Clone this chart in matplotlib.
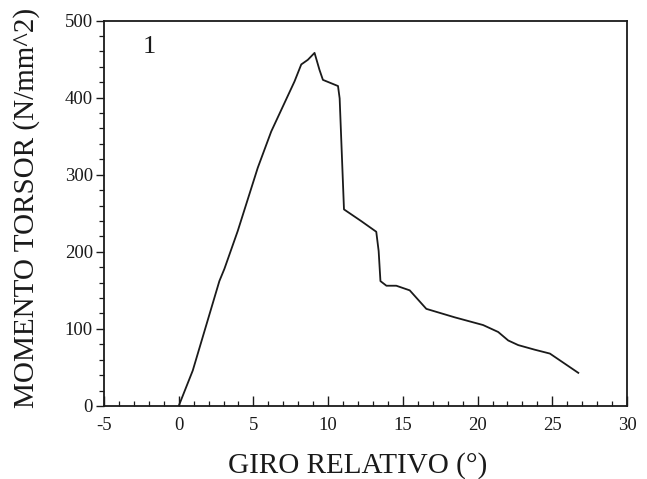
import matplotlib
matplotlib.use("Agg")
import matplotlib.pyplot as plt
from matplotlib.ticker import MultipleLocator

# Torque vs. relative rotation curve
giro = [0.0, 0.94, 2.72, 3.06, 3.95, 5.29, 6.19, 7.75, 8.2, 8.64, 9.09, 9.42,
        9.65, 10.66, 10.77, 11.06, 12.2, 13.22, 13.38, 13.5, 13.9, 14.56,
        15.46, 16.57, 18.47, 20.37, 21.38, 22.05, 22.72, 23.83, 24.84, 26.74]
momento = [0, 46, 162, 178, 227, 309, 356, 421, 443, 449, 458, 436,
           423, 415, 399, 255, 240, 226, 201, 162, 156, 156,
           150, 126, 115, 105, 96, 85, 79, 73, 68, 43]

x_ticks = [-5, 0, 5, 10, 15, 20, 25, 30]
y_ticks = [0, 100, 200, 300, 400, 500]

plt.rcParams['font.family'] = ['Liberation Serif', 'DejaVu Serif']
plt.rcParams['axes.unicode_minus'] = False

fig = plt.figure(figsize=(6.47, 4.79), dpi=100)
ax = fig.add_axes([104 / 647, 1 - 406 / 479, (627 - 104) / 647, (406 - 20.5) / 479])

ax.plot(giro, momento, color='#1a1a1a', lw=1.3)

ax.set_xlim(-5, 30)
ax.set_ylim(0, 500)
ax.set_xticks(x_ticks)
ax.set_yticks(y_ticks)
ax.xaxis.set_minor_locator(MultipleLocator(1))
ax.yaxis.set_minor_locator(MultipleLocator(20))

ax.tick_params(axis='x', which='major', direction='in', length=7, width=1.0,
               labelsize=13.5, pad=8, colors='#1a1a1a')
ax.tick_params(axis='x', which='minor', direction='in', length=3.5, width=0.9,
               colors='#1a1a1a')
ax.tick_params(axis='y', which='major', direction='out', length=6, width=1.0,
               labelsize=13.5, pad=2, colors='#1a1a1a')
ax.tick_params(axis='y', which='minor', direction='out', length=3.5, width=0.9,
               colors='#1a1a1a')

for side in ax.spines.values():
    side.set_linewidth(1.3)
    side.set_color('#1a1a1a')

ax.set_xlabel('GIRO RELATIVO (°)', fontsize=21, labelpad=13, color='#1a1a1a')
ax.set_ylabel('MOMENTO TORSOR (N/mm^2)', fontsize=21, labelpad=18, color='#1a1a1a')
ax.xaxis.label.set_x(0.484)
ax.yaxis.label.set_y(0.514)

ax.text(-2.0, 466, '1', fontsize=19, ha='center', va='center', color='#1a1a1a')

fig.savefig('out.png', dpi=100)
